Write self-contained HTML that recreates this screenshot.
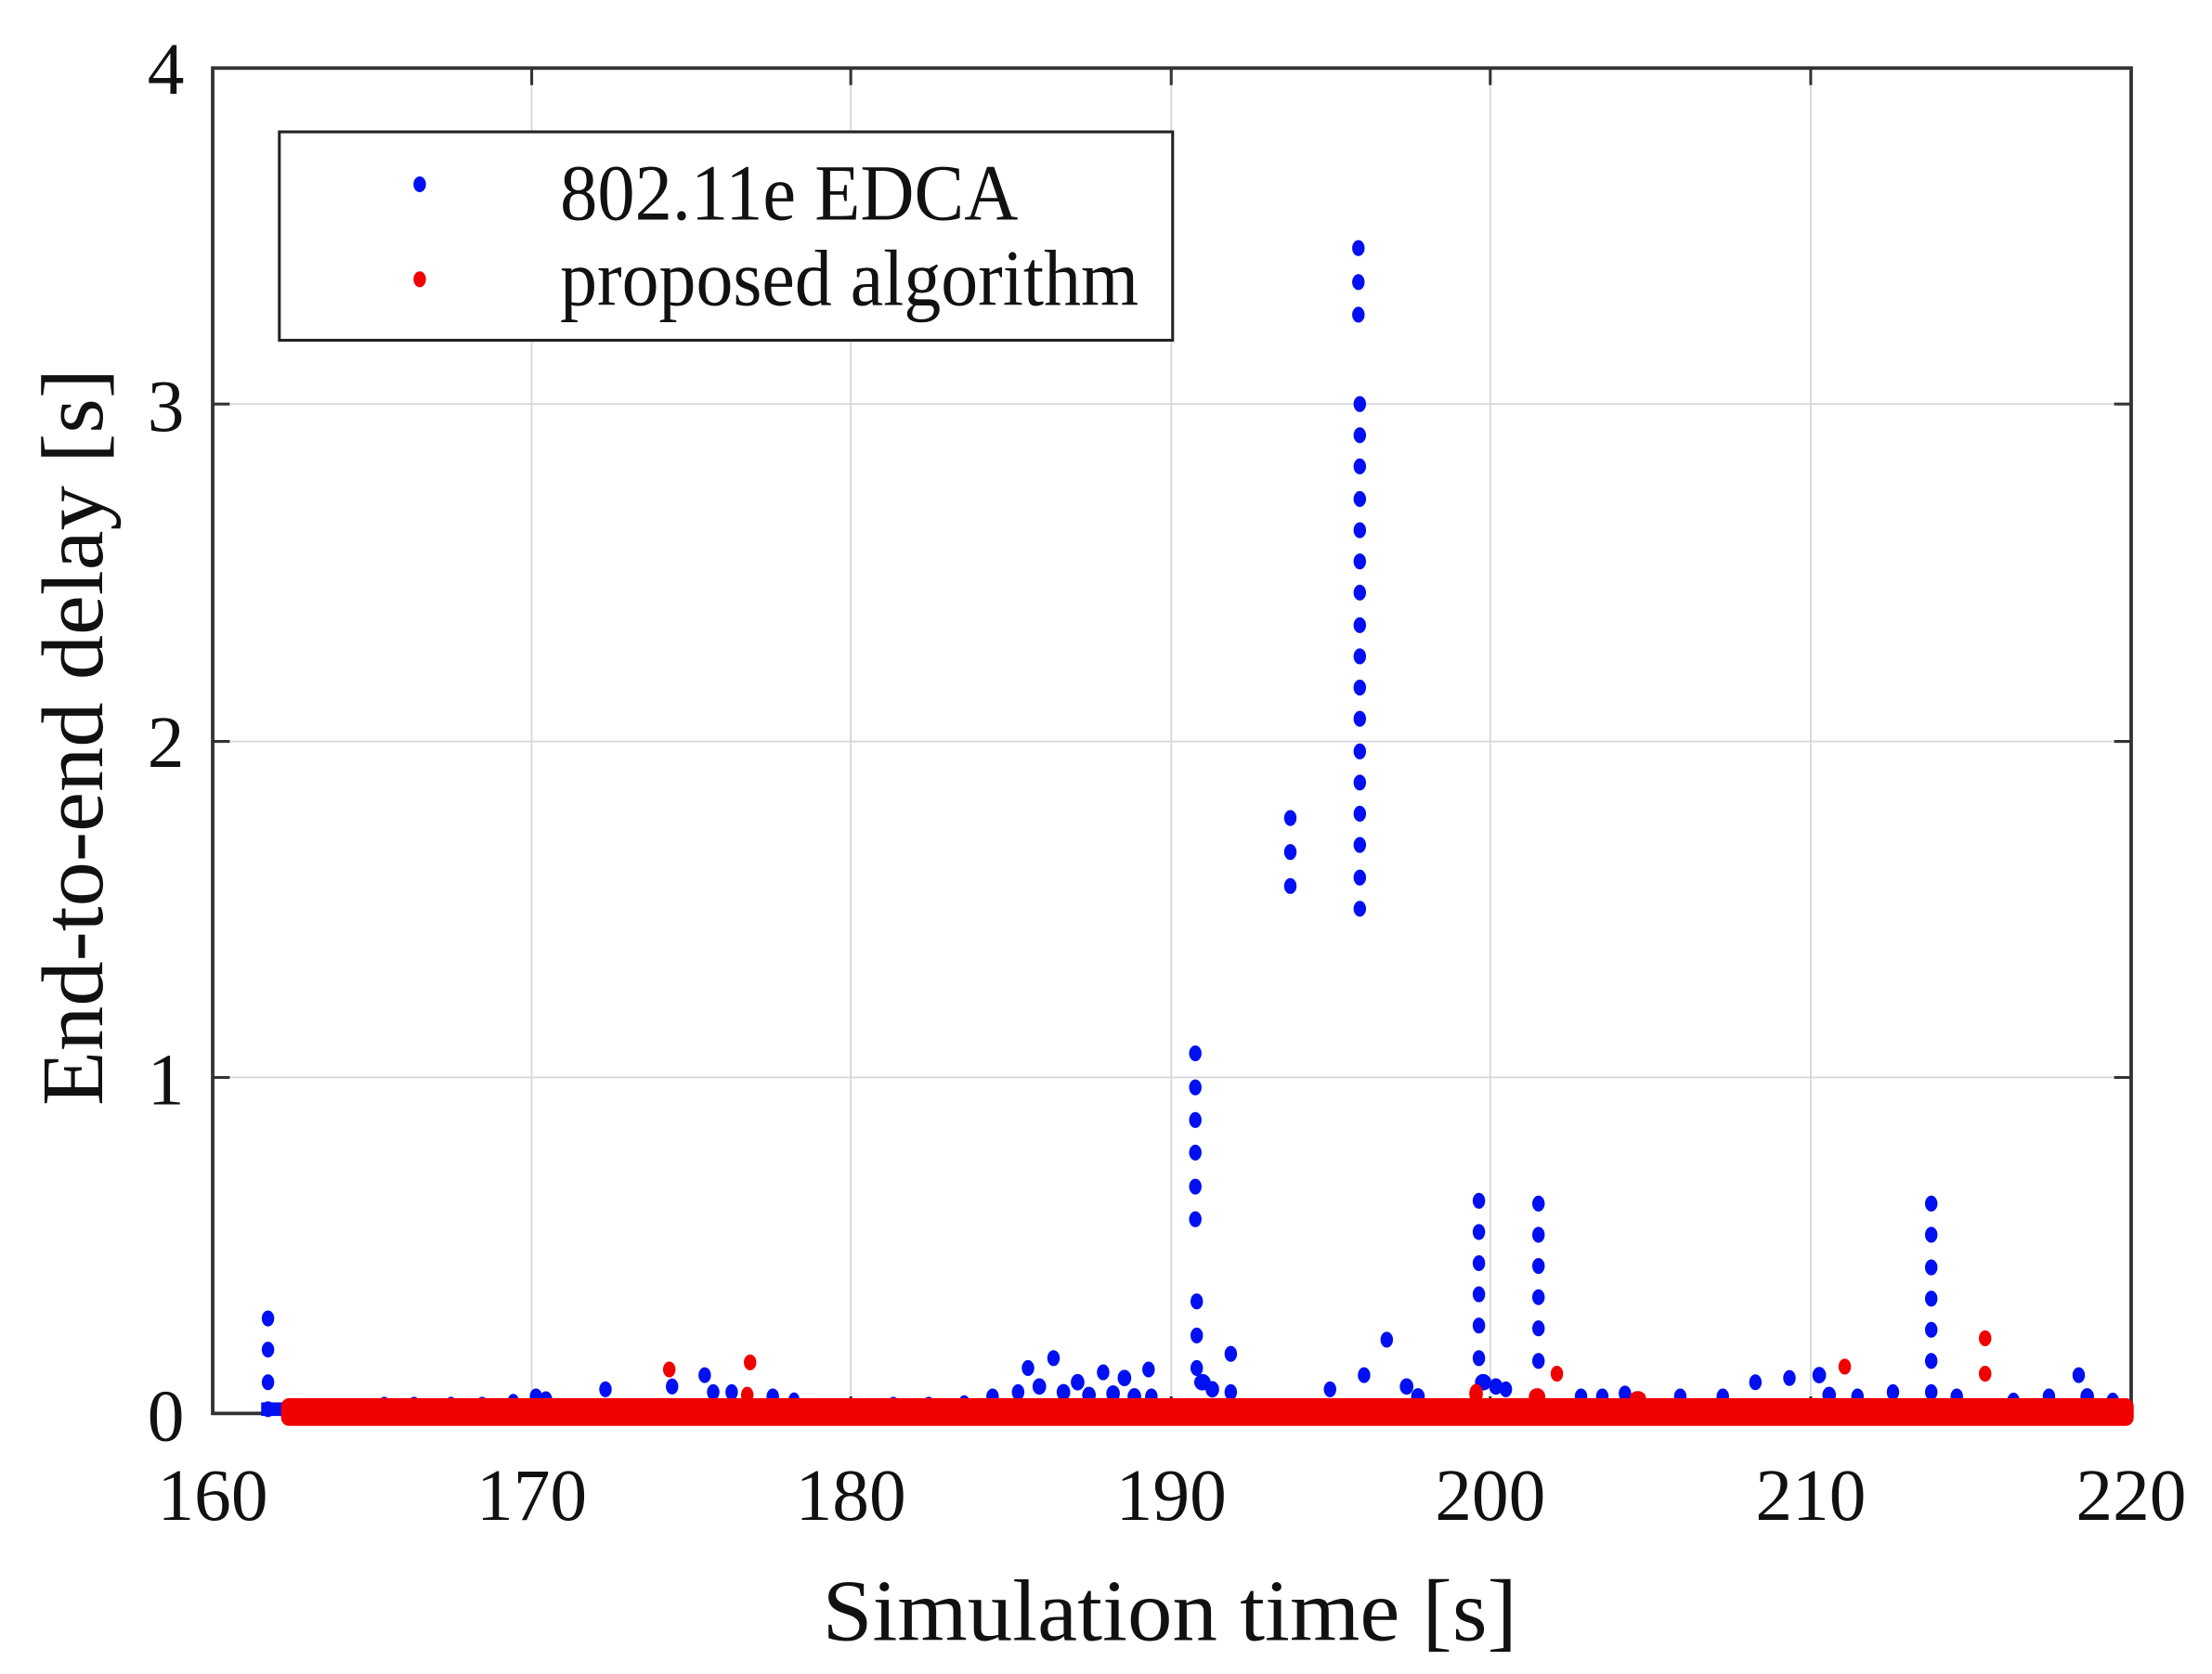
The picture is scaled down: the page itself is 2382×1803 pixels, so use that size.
<!DOCTYPE html>
<html><head><meta charset="utf-8"><style>
html,body{margin:0;padding:0;background:#fff;}
svg{display:block;}
text{font-family:"Liberation Serif",serif;fill:#111;}
</style></head><body>
<svg width="2382" height="1803" viewBox="0 0 1560 1180.8" xmlns="http://www.w3.org/2000/svg">
<rect width="1560" height="1181" fill="#fff"/>
<g stroke="#d4d8dc" stroke-width="1.2">
<line x1="375" y1="48" x2="375" y2="997"/><line x1="600" y1="48" x2="600" y2="997"/>
<line x1="826" y1="48" x2="826" y2="997"/><line x1="1051" y1="48" x2="1051" y2="997"/>
<line x1="1277" y1="48" x2="1277" y2="997"/>
<line x1="150" y1="285" x2="1503" y2="285"/><line x1="150" y1="523" x2="1503" y2="523"/>
<line x1="150" y1="760" x2="1503" y2="760"/>
</g>
<g stroke="#333" stroke-width="2">
<path d="M375 48v12M600 48v12M826 48v12M1051 48v12M1277 48v12M375 997v-12M600 997v-12M826 997v-12M1051 997v-12M1277 997v-12M150 285h12M150 523h12M150 760h12M1503 285h-12M1503 523h-12M1503 760h-12"/>
</g>
<rect x="150" y="48" width="1353" height="949" fill="none" stroke="#333" stroke-width="2.5"/>
<g fill="#0010f0" stroke="#0010f0" stroke-width="1.6">
<ellipse cx="189" cy="930" rx="3.6" ry="4.8"/><ellipse cx="189" cy="952" rx="3.6" ry="4.8"/><ellipse cx="189" cy="975" rx="3.6" ry="4.8"/><ellipse cx="189" cy="994" rx="3.6" ry="4.8"/>
<ellipse cx="843" cy="743" rx="3.6" ry="4.8"/><ellipse cx="843" cy="767" rx="3.6" ry="4.8"/><ellipse cx="843" cy="790" rx="3.6" ry="4.8"/><ellipse cx="843" cy="813" rx="3.6" ry="4.8"/><ellipse cx="843" cy="837" rx="3.6" ry="4.8"/><ellipse cx="843" cy="860" rx="3.6" ry="4.8"/><ellipse cx="844" cy="918" rx="3.6" ry="4.8"/><ellipse cx="844" cy="942" rx="3.6" ry="4.8"/><ellipse cx="844" cy="965" rx="3.6" ry="4.8"/><ellipse cx="848" cy="975" rx="5" ry="5"/>
<ellipse cx="910" cy="577" rx="3.6" ry="4.8"/><ellipse cx="910" cy="601" rx="3.6" ry="4.8"/><ellipse cx="910" cy="625" rx="3.6" ry="4.8"/>
<ellipse cx="958" cy="175" rx="3.6" ry="4.8"/><ellipse cx="958" cy="199" rx="3.6" ry="4.8"/><ellipse cx="958" cy="222" rx="3.6" ry="4.8"/>
<ellipse cx="959" cy="285" rx="3.6" ry="4.8"/><ellipse cx="959" cy="307" rx="3.6" ry="4.8"/><ellipse cx="959" cy="329" rx="3.6" ry="4.8"/><ellipse cx="959" cy="352" rx="3.6" ry="4.8"/><ellipse cx="959" cy="374" rx="3.6" ry="4.8"/><ellipse cx="959" cy="396" rx="3.6" ry="4.8"/><ellipse cx="959" cy="418" rx="3.6" ry="4.8"/><ellipse cx="959" cy="441" rx="3.6" ry="4.8"/><ellipse cx="959" cy="463" rx="3.6" ry="4.8"/><ellipse cx="959" cy="485" rx="3.6" ry="4.8"/><ellipse cx="959" cy="507" rx="3.6" ry="4.8"/><ellipse cx="959" cy="530" rx="3.6" ry="4.8"/><ellipse cx="959" cy="552" rx="3.6" ry="4.8"/><ellipse cx="959" cy="574" rx="3.6" ry="4.8"/><ellipse cx="959" cy="596" rx="3.6" ry="4.8"/><ellipse cx="959" cy="619" rx="3.6" ry="4.8"/><ellipse cx="959" cy="641" rx="3.6" ry="4.8"/>
<ellipse cx="1043" cy="847" rx="3.6" ry="4.8"/><ellipse cx="1043" cy="869" rx="3.6" ry="4.8"/><ellipse cx="1043" cy="891" rx="3.6" ry="4.8"/><ellipse cx="1043" cy="913" rx="3.6" ry="4.8"/><ellipse cx="1043" cy="935" rx="3.6" ry="4.8"/><ellipse cx="1043" cy="958" rx="3.6" ry="4.8"/><ellipse cx="1046" cy="975" rx="5" ry="5"/>
<ellipse cx="1085" cy="849" rx="3.6" ry="4.8"/><ellipse cx="1085" cy="871" rx="3.6" ry="4.8"/><ellipse cx="1085" cy="893" rx="3.6" ry="4.8"/><ellipse cx="1085" cy="915" rx="3.6" ry="4.8"/><ellipse cx="1085" cy="937" rx="3.6" ry="4.8"/><ellipse cx="1085" cy="960" rx="3.6" ry="4.8"/>
<ellipse cx="1362" cy="849" rx="3.6" ry="4.8"/><ellipse cx="1362" cy="871" rx="3.6" ry="4.8"/><ellipse cx="1362" cy="894" rx="3.6" ry="4.8"/><ellipse cx="1362" cy="916" rx="3.6" ry="4.8"/><ellipse cx="1362" cy="938" rx="3.6" ry="4.8"/><ellipse cx="1362" cy="960" rx="3.6" ry="4.8"/><ellipse cx="1362" cy="982" rx="3.6" ry="4.8"/>
<ellipse cx="868" cy="955" rx="3.6" ry="4.8"/><ellipse cx="978" cy="945" rx="3.6" ry="4.8"/><ellipse cx="962" cy="970" rx="3.6" ry="4.8"/>
<ellipse cx="271" cy="990" rx="3" ry="4"/><ellipse cx="292" cy="990" rx="3" ry="4"/><ellipse cx="318" cy="990" rx="3" ry="4"/><ellipse cx="340" cy="990" rx="3" ry="4"/><ellipse cx="362" cy="988" rx="3" ry="4"/><ellipse cx="378" cy="985" rx="3.6" ry="4.8"/><ellipse cx="385" cy="987" rx="3.6" ry="4.8"/><ellipse cx="427" cy="980" rx="3.6" ry="4.8"/><ellipse cx="474" cy="978" rx="3.6" ry="4.8"/><ellipse cx="497" cy="970" rx="3.6" ry="4.8"/><ellipse cx="503" cy="982" rx="3.6" ry="4.8"/><ellipse cx="516" cy="982" rx="3.6" ry="4.8"/><ellipse cx="545" cy="985" rx="3.6" ry="4.8"/><ellipse cx="560" cy="987" rx="3" ry="4"/><ellipse cx="630" cy="990" rx="3" ry="4"/><ellipse cx="655" cy="990" rx="3" ry="4"/><ellipse cx="680" cy="989" rx="3" ry="4"/>
<ellipse cx="725" cy="965" rx="3.6" ry="4.8"/><ellipse cx="743" cy="958" rx="3.6" ry="4.8"/><ellipse cx="733" cy="978" rx="4" ry="5"/><ellipse cx="760" cy="975" rx="4" ry="5"/><ellipse cx="778" cy="968" rx="3.6" ry="4.8"/><ellipse cx="793" cy="972" rx="4" ry="5"/><ellipse cx="810" cy="966" rx="3.6" ry="4.8"/><ellipse cx="750" cy="982" rx="4" ry="5"/><ellipse cx="768" cy="984" rx="4" ry="5"/><ellipse cx="700" cy="985" rx="3.6" ry="4.8"/><ellipse cx="718" cy="982" rx="3.6" ry="4.8"/><ellipse cx="785" cy="983" rx="4" ry="5"/><ellipse cx="800" cy="985" rx="4" ry="5"/><ellipse cx="812" cy="985" rx="3.6" ry="4.8"/>
<ellipse cx="855" cy="980" rx="4" ry="5"/><ellipse cx="868" cy="982" rx="3.6" ry="4.8"/><ellipse cx="938" cy="980" rx="3.6" ry="4.8"/><ellipse cx="992" cy="978" rx="4" ry="5"/><ellipse cx="1000" cy="985" rx="4" ry="5"/><ellipse cx="1055" cy="978" rx="4" ry="5"/><ellipse cx="1062" cy="980" rx="3.6" ry="4.8"/><ellipse cx="1115" cy="985" rx="3.6" ry="4.8"/><ellipse cx="1130" cy="985" rx="3.6" ry="4.8"/><ellipse cx="1146" cy="983" rx="3.6" ry="4.8"/><ellipse cx="1185" cy="985" rx="3.6" ry="4.8"/><ellipse cx="1215" cy="985" rx="3.6" ry="4.8"/><ellipse cx="1238" cy="975" rx="3.6" ry="4.8"/><ellipse cx="1262" cy="972" rx="3.6" ry="4.8"/><ellipse cx="1283" cy="970" rx="4" ry="5"/><ellipse cx="1290" cy="984" rx="4" ry="5"/><ellipse cx="1310" cy="985" rx="3.6" ry="4.8"/><ellipse cx="1335" cy="982" rx="3.6" ry="4.8"/><ellipse cx="1380" cy="985" rx="3.6" ry="4.8"/><ellipse cx="1420" cy="988" rx="3.6" ry="4.8"/><ellipse cx="1445" cy="985" rx="3.6" ry="4.8"/><ellipse cx="1466" cy="970" rx="3.6" ry="4.8"/><ellipse cx="1472" cy="985" rx="4" ry="5"/><ellipse cx="1490" cy="988" rx="3.6" ry="4.8"/>
<rect x="185" y="990" width="14" height="8"/>
</g>
<g fill="#f00000" stroke="#f00000" stroke-width="1.6">
<rect x="199" y="987" width="1305" height="18" rx="5"/>
<ellipse cx="472" cy="966" rx="3.6" ry="4.8"/><ellipse cx="529" cy="961" rx="3.6" ry="4.8"/><ellipse cx="1098" cy="969" rx="3.6" ry="4.8"/><ellipse cx="1301" cy="964" rx="3.6" ry="4.8"/><ellipse cx="1400" cy="944" rx="3.6" ry="4.8"/><ellipse cx="1400" cy="969" rx="3.6" ry="4.8"/>
<ellipse cx="527" cy="984" rx="3.6" ry="5"/><ellipse cx="1041" cy="983" rx="4" ry="6"/><ellipse cx="1084" cy="985" rx="5" ry="5"/><ellipse cx="1155" cy="986" rx="5" ry="4"/>
</g>
<rect x="197" y="93" width="630" height="147" fill="#fff" stroke="#222" stroke-width="2"/>
<ellipse cx="296" cy="130" rx="4.4" ry="5.6" fill="#0010f0"/>
<ellipse cx="296" cy="197" rx="4.4" ry="5.6" fill="#f00000"/>
<text x="395" y="155" font-size="56" textLength="323" lengthAdjust="spacingAndGlyphs">802.11e EDCA</text>
<text x="395" y="215" font-size="56" textLength="408" lengthAdjust="spacingAndGlyphs">proposed algorithm</text>
<g font-size="52" text-anchor="middle">
<text x="150" y="1072">160</text><text x="375" y="1072">170</text><text x="600" y="1072">180</text><text x="826" y="1072">190</text><text x="1051" y="1072">200</text><text x="1277" y="1072">210</text><text x="1503" y="1072">220</text>
</g>
<g font-size="52" text-anchor="end">
<text x="130" y="66">4</text><text x="130" y="304">3</text><text x="130" y="541">2</text><text x="130" y="779">1</text><text x="130" y="1016">0</text>
</g>
<text x="825" y="1157" font-size="62" text-anchor="middle" textLength="490" lengthAdjust="spacingAndGlyphs">Simulation time [s]</text>
<text transform="translate(72,520) rotate(-90)" font-size="62" text-anchor="middle" textLength="520" lengthAdjust="spacingAndGlyphs">End-to-end delay [s]</text>
</svg>
</body></html>
